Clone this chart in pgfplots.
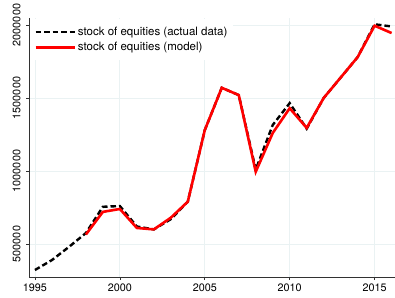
\documentclass[border=0pt]{standalone}
\usepackage{pgfplots}
\pgfplotsset{compat=1.18}
\usepackage{fontspec}
\setmainfont{TeX Gyre Heros}
\definecolor{gridc}{RGB}{234,242,243}
\definecolor{axc}{RGB}{50,50,50}
\begin{document}
\begin{tikzpicture}
\begin{axis}[
  scale only axis,
  width=366pt, height=259pt,
  xmin=1994.65, xmax=2016.2,
  ymin=274000, ymax=2048000,
  axis x line*=bottom, axis y line*=left,
  axis line style={axc, line width=0.8pt, -},
  xtick={1995,2000,2005,2010,2015},
  ytick={500000,1000000,1500000,2000000},
  scaled y ticks=false,
  /pgf/number format/fixed,
  /pgf/number format/1000 sep={},
  /pgf/number format/assume math mode=true,
  tick label style={font=\fontsize{10.8}{12}\selectfont, text=black},
  yticklabel style={rotate=90, anchor=south, yshift=2pt},
  tick align=outside,
  major tick length=3pt,
  tick style={axc, line width=0.6pt},
  grid=major,
  major grid style={gridc, line width=0.8pt},
  legend cell align=left,
  legend style={at={(0.003,0.995)}, anchor=north west, draw=none, fill=white,
    font=\fontsize{11.5}{13}\selectfont, row sep=1.5pt, inner xsep=4pt, inner ysep=5.5pt},
  legend image code/.code={\draw[#1] (0pt,0pt) -- (39pt,0pt);},
]
\addplot[black, line width=2.4pt, dash pattern=on 5.5pt off 3pt] coordinates {
(1995,322000) (1996,390000) (1997,480000) (1998,575000) (1999,755000)
(2000,760000) (2001,620000) (2002,600000) (2003,670000) (2004,790000)
(2005,1280000) (2006,1570000) (2007,1520000) (2008,1010000) (2009,1315000)
(2010,1465000) (2011,1290000) (2012,1500000) (2013,1640000) (2014,1780000)
(2015,2005000) (2016,1990000)};
\addlegendentry{stock of equities (actual data)}
\addplot[red, line width=2.6pt] coordinates {
(1998,565000) (1999,720000)
(2000,740000) (2001,610000) (2002,600000) (2003,680000) (2004,790000)
(2005,1280000) (2006,1570000) (2007,1520000) (2008,995000) (2009,1260000)
(2010,1430000) (2011,1295000) (2012,1500000) (2013,1640000) (2014,1780000)
(2015,1995000) (2016,1945000)};
\addlegendentry{stock of equities (model)}
\end{axis}
\pgfresetboundingbox
\path (-29pt,-20pt) rectangle (366pt,277pt);
\end{tikzpicture}
\end{document}
